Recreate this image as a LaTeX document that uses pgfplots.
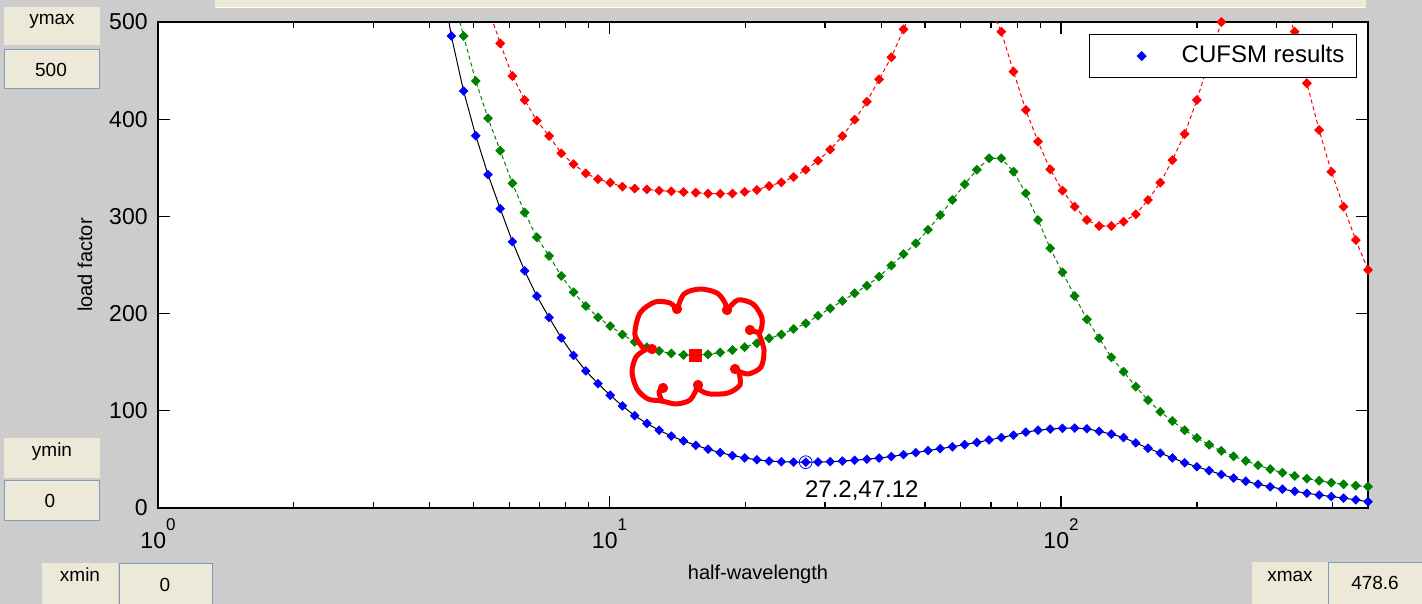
\documentclass[border=0pt]{standalone}
\usepackage{pgfplots}
\pgfplotsset{compat=1.18}
\usepackage{pgfplotstable}
\usepackage{fontspec}
\setmainfont{Liberation Sans}

\definecolor{guigray}{RGB}{204,204,204}
\definecolor{guibeige}{RGB}{236,233,216}
\definecolor{editborder}{RGB}{127,157,185}
\definecolor{mgreen}{RGB}{0,128,0}

% buckling curves: half-wavelength L, load factor P
\pgfplotstableread{
L P
4.194 560
4.464 485.6
4.751 429
5.056 383
5.382 343
5.728 308
6.096 274
6.488 244
6.905 218
7.349 196
7.822 175
8.325 157
8.861 141
9.431 128
10.037 116
10.682 105
11.370 95
12.101 87
12.879 80
13.707 74
14.589 69
15.527 64.5
16.526 60.5
17.588 57
18.720 54
19.924 51.5
21.205 49.6
22.569 48.3
24.020 47.6
25.565 47.2
27.209 47.12
28.959 47.3
30.822 47.7
32.804 48.3
34.914 49.1
37.160 50.2
39.550 51.4
42.093 52.9
44.800 54.9
47.682 57
50.749 59
54.012 61
57.486 63
61.184 65.2
65.119 67.5
69.307 70
73.764 72.5
78.509 75
83.558 78
88.932 80
94.652 81.2
100.74 82
107.22 82.2
114.11 81.5
121.45 79
129.27 76
137.58 72.5
146.43 67
155.85 61.5
165.87 56.5
176.54 51.5
187.89 46.5
199.97 42.5
212.84 38.5
226.53 34.5
241.09 30.8
256.60 27.5
273.10 24.5
290.67 21.8
309.36 19.4
329.26 17.2
350.44 15.2
372.98 13.4
396.97 11.8
422.50 10.2
449.67 8.4
478.59 6.5
}\modeone

\pgfplotstableread{
L P
4.464 535
4.751 485.6
5.056 439.3
5.382 401
5.728 367.6
6.096 334
6.488 304
6.905 278.5
7.349 259.3
7.822 238.7
8.325 222
8.861 207.8
9.431 196.2
10.037 187.2
10.682 178.5
11.370 171
12.101 165.5
12.879 161.5
13.707 159
14.589 157.5
15.527 157.2
16.526 158
17.588 160
18.720 162.5
19.924 165.5
21.205 169.5
22.569 174.6
24.020 178.5
25.565 184.2
27.209 190
28.959 197.8
30.822 205.4
32.804 213
34.914 220.9
37.160 228.7
39.550 238
42.093 249.5
44.800 261.2
47.682 272.3
50.749 286.3
54.012 301.4
57.486 316.9
61.184 333
65.119 348
69.307 359.8
73.764 359.8
78.509 346
83.558 323.8
88.932 296.3
94.652 267.2
100.74 242.5
107.22 218.1
114.11 194.1
121.45 174.6
129.27 155
137.58 140.2
146.43 124.8
155.85 111
165.87 99
176.54 89.5
187.89 80
199.97 72
212.84 65
226.53 58.8
241.09 53.2
256.60 48.5
273.10 44
290.67 40
309.36 36.3
329.26 33
350.44 30.2
372.98 28
396.97 26
422.50 24.4
449.67 23
478.59 22
}\modetwo

\pgfplotstableread{
L P
5.056 560
5.382 515
5.728 478
6.096 444.4
6.488 419.8
6.905 398.5
7.349 382.7
7.822 364.9
8.325 353.8
8.861 344.3
9.431 338.4
10.037 334.7
10.682 330.6
11.370 328.6
12.101 327.8
12.879 326.5
13.707 325.8
14.589 325
15.527 324.5
16.526 323.5
17.588 323.3
18.720 323.5
19.924 325.2
21.205 327.2
22.569 331.3
24.020 335
25.565 340.5
27.209 348
28.959 357.3
30.822 368.8
32.804 382.7
34.914 399.5
37.160 418
39.550 441
42.093 463.7
44.800 492.5
47.682 523
50.749 555
54.012 575
57.486 580
61.184 570
65.119 545
69.307 518
73.764 490
78.509 448.9
83.558 409.5
88.932 376.9
94.652 348.4
100.74 326.5
107.22 310
114.11 296.3
121.45 290.1
129.27 290.1
137.58 294.6
146.43 302.2
155.85 316.9
165.87 334.7
176.54 358
187.89 384.8
199.97 419.8
212.84 460
226.53 500
241.09 535
256.60 555
273.10 560
290.67 545
309.36 523
329.26 490
350.44 437
372.98 388.9
396.97 346
422.50 310
449.67 275.7
478.59 245
}\modethree

\pgfplotsset{
  resmark/.style={mark=square*, mark size=1.5pt,
    mark options={rotate=45, solid, fill=#1, draw=#1}},
  marklegend/.style={legend image code/.code={%
    \path[draw=none, fill=none] (0pt,-1pt) rectangle (40pt,1pt);
    \draw[mark repeat=2,mark phase=2,##1] plot coordinates {(0pt,0pt) (22pt,0pt) (40pt,0pt)};}},
}

\begin{document}
\begin{tikzpicture}
\path[use as bounding box] (0,0) rectangle (711pt,302pt);
\fill[guigray] (0,0) rectangle (711pt,302pt);

\begin{axis}[
  at={(79pt,48pt)}, anchor=south west,
  scale only axis, width=605pt, height=243pt,
  xmode=log, log basis x=10,
  xmin=1, xmax=478.6, ymin=0, ymax=500,
  xtick={1,10,100},
  xticklabels={10\raisebox{9pt}{\fontsize{8.5}{9}\selectfont 0},
               10\raisebox{9pt}{\fontsize{8.5}{9}\selectfont 1},
               10\raisebox{9pt}{\fontsize{8.5}{9}\selectfont 2}},
  minor xtick={2,3,4,5,6,7,8,9,20,30,40,50,60,70,80,90,200,300,400},
  ytick={0,100,200,300,400,500},
  /pgf/number format/assume math mode=true,
  tick align=inside,
  major tick length=6pt, minor tick length=3pt,
  tick style={black, line width=0.6pt},
  axis line style={line width=0.6pt},
  axis background/.style={fill=white},
  tick label style={font=\fontsize{11.5}{13}\selectfont},
  yticklabel style={anchor=east, inner sep=0pt, xshift=-5pt},
  xticklabel style={anchor=base, inner sep=0pt, yshift=-20pt},
  xlabel={half-wavelength}, ylabel={load factor},
  label style={font=\fontsize{11.5}{13}\selectfont},
  every axis x label/.style={at={([xshift=-2.5pt,yshift=-36pt]axis description cs:0.5,0)}, anchor=base},
  every axis y label/.style={at={([xshift=-33pt]axis description cs:0,0.5)}, rotate=90, anchor=base},
  legend style={at={(1,1)}, anchor=north east, xshift=-5.5pt, yshift=-6pt,
    draw=black, line width=0.6pt, fill=white,
    inner xsep=4pt, inner ysep=3pt,
    font=\fontsize{12}{14}\selectfont,
    nodes={inner sep=2pt, text height=9pt, text depth=2.5pt}},
  legend cell align=left,
]
\addplot[only marks, blue, resmark=blue, marklegend]
  table[x=L, y=P]{\modeone};
\addlegendentry{CUFSM results}
\addplot[black, line width=0.5pt, forget plot] table[x=L, y=P]{\modeone};

\addplot[mgreen, line width=0.5pt, dash pattern=on 2pt off 1.5pt,
  resmark=mgreen, forget plot]
  table[x=L, y=P]{\modetwo};

\addplot[red, line width=0.5pt, dash pattern=on 2pt off 1.5pt,
  resmark=red, forget plot]
  table[x=L, y=P]{\modethree};

% selected mode
\addplot[only marks, red, mark=square*, mark size=3pt, forget plot]
  coordinates {(15.527,157.2)};

% data tip at the minimum of the first curve
\addplot[only marks, blue, mark=o, mark size=3.2pt, line width=0.4pt, forget plot]
  coordinates {(27.2,47.12)};
\node[anchor=base west, inner sep=0pt, xshift=-0.5pt, yshift=-17.5pt,
  font=\fontsize{12}{14}\selectfont] at (axis cs:27.2,47.12) {27.2,47.12};
\end{axis}

% window controls, in screen units
\begin{scope}[x=0.5pt, y=-0.5pt, shift={(0pt,302pt)}]
  \fill[guibeige] (215,0) rectangle (1366,7);
  \draw[white!85!guibeige] (215,7) -- (1366,7);

  \tikzset{lbl/.style={anchor=base, inner sep=0pt, font=\fontsize{9.5}{11}\selectfont}}
  % ymax
  \fill[guibeige] (4,7) rectangle (100,45);
  \node[lbl] at (52,25) {ymax};
  \filldraw[fill=guibeige, draw=editborder, line width=0.6pt] (4.5,49.5) rectangle (99.5,88.5);
  \node[lbl] at (51,77) {500};
  % ymin
  \fill[guibeige] (4,438) rectangle (100,478);
  \node[lbl] at (52,457) {ymin};
  \filldraw[fill=guibeige, draw=editborder, line width=0.6pt] (4.5,480.5) rectangle (99.5,520.5);
  \node[lbl] at (50,508) {0};
  % xmin
  \fill[guibeige] (42,563) rectangle (118,604);
  \node[lbl] at (80,582) {xmin};
  \filldraw[fill=guibeige, draw=editborder, line width=0.6pt] (119.5,563.5) rectangle (212.5,606);
  \node[lbl] at (165,592) {0};
  % xmax
  \fill[guibeige] (1252,562) rectangle (1328,604);
  \node[lbl] at (1290,582) {xmax};
  \filldraw[fill=guibeige, draw=editborder, line width=0.6pt] (1328.5,562.5) rectangle (1424,606);
  \node[lbl] at (1375,590) {478.6};

  % hand-drawn cloud around the selected mode
  \begin{scope}[red, line width=2.5pt, line cap=round, line join=round]
    \draw plot[smooth] coordinates {(645,350) (635,335) (640,313) (655,302) (670,303) (677,310)};
    \draw plot[smooth] coordinates {(677,310) (684,294) (700,289) (717,293) (725,303) (727,312)};
    \draw plot[smooth] coordinates {(727,310) (738,300) (753,304) (762,318) (760,332) (751,330)};
    \draw plot[smooth] coordinates {(759,334) (764,350) (761,367) (748,374) (736,370)};
    \draw plot[smooth] coordinates {(739,373) (740,385) (728,393) (710,394) (700,390) (697,384)};
    \draw plot[smooth] coordinates {(697,388) (690,400) (676,404) (662,401) (648,399) (637,389) (632,372) (636,357) (645,350)};
    \draw plot[smooth] coordinates {(662,401) (659,392) (664,386)};
    \draw (677,309) circle (2.5);
    \draw (727,310) circle (2.5);
    \draw (750,330) circle (2.5);
    \draw (735,369) circle (2.5);
    \draw (698,385) circle (2.5);
    \draw (663,388) circle (2.5);
    \draw (652,349) circle (2.5);
  \end{scope}
\end{scope}
\end{tikzpicture}
\end{document}
